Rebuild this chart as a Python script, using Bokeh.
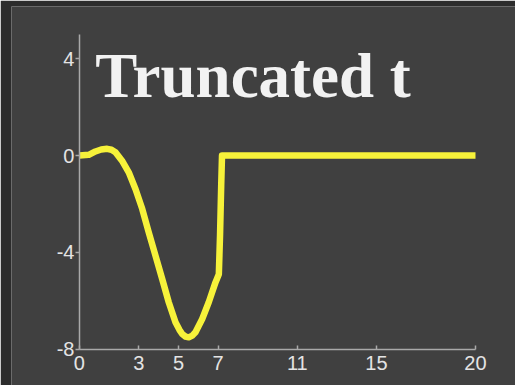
from bokeh.plotting import figure
from bokeh.models import Range1d, FixedTicker, Label
from bokeh.embed import file_html
from bokeh.resources import INLINE

# Truncated t curve samples
t_vals = [0.0, 0.47, 0.81, 1.1, 1.4, 1.62, 1.82, 2.15, 2.49, 2.83, 3.17, 3.5,
          3.84, 4.18, 4.51, 4.85, 5.05, 5.19, 5.36, 5.52, 5.7, 5.86, 6.2,
          6.53, 6.87, 7.04, 7.1, 7.16, 7.2, 20.0]
y_vals = [0.0, 0.03, 0.17, 0.25, 0.28, 0.24, 0.14, -0.21, -0.69, -1.38, -2.2,
          -3.17, -4.13, -5.1, -6.06, -6.89, -7.2, -7.37, -7.48, -7.51, -7.44,
          -7.3, -6.75, -6.06, -5.24, -4.9, -3.3, -1.2, 0.0, 0.0]

x_ticks = [0, 3, 5, 7, 11, 15, 20]
y_ticks = [-8, -4, 0, 4]
x_bounds = (0, 20)
y_bounds = (-8, 5)
title_text = "Truncated t"

inner_bg = "#404040"
outer_bg = "#2c2c2c"
axis_col = "#a9a9a9"
label_col = "#e4e4e4"

# The frame fills the panel; the axes sit inside it at fixed positions.
p = figure(width=515, height=385,
           x_range=Range1d(-3.43, 22.02), y_range=Range1d(-9.5, 6.16),
           output_backend="svg", toolbar_location=None,
           min_border_left=11, min_border_right=0,
           min_border_top=6, min_border_bottom=0)
p.background_fill_color = inner_bg
p.border_fill_color = outer_bg
p.outline_line_color = None
p.xgrid.grid_line_color = None
p.ygrid.grid_line_color = None

p.line(t_vals, y_vals, line_color="#f7f23a", line_width=6.5,
       line_join="round", line_cap="butt")

p.xaxis.fixed_location = y_bounds[0]
p.yaxis.fixed_location = x_bounds[0]
p.xaxis.bounds = x_bounds
p.yaxis.bounds = y_bounds
p.xaxis.ticker = FixedTicker(ticks=x_ticks)
p.yaxis.ticker = FixedTicker(ticks=y_ticks)
p.xaxis.major_label_overrides = {v: str(v) for v in x_ticks}
p.yaxis.major_label_overrides = {v: str(v) for v in y_ticks}
for ax in (p.xaxis[0], p.yaxis[0]):
    ax.axis_line_color = axis_col
    ax.axis_line_width = 1.5
    ax.major_tick_line_color = axis_col
    ax.major_tick_line_width = 1.5
    ax.minor_tick_line_color = None
    ax.major_label_text_color = label_col
    ax.major_label_text_font = "Liberation Sans"
    ax.major_label_text_font_size = "20px"

p.xaxis.major_tick_in = 4
p.xaxis.major_tick_out = 0
p.xaxis.major_label_standoff = 7
p.yaxis.major_tick_in = 0
p.yaxis.major_tick_out = 4
p.yaxis.major_label_standoff = 1

p.add_layout(Label(x=0.8, y=3.3, text=title_text,
                   text_font="Liberation Serif", text_font_style="bold",
                   text_font_size="63px", text_color="#f2f2f2",
                   text_baseline="alphabetic", text_align="left"))

open("out.html", "w").write(file_html(p, INLINE))
